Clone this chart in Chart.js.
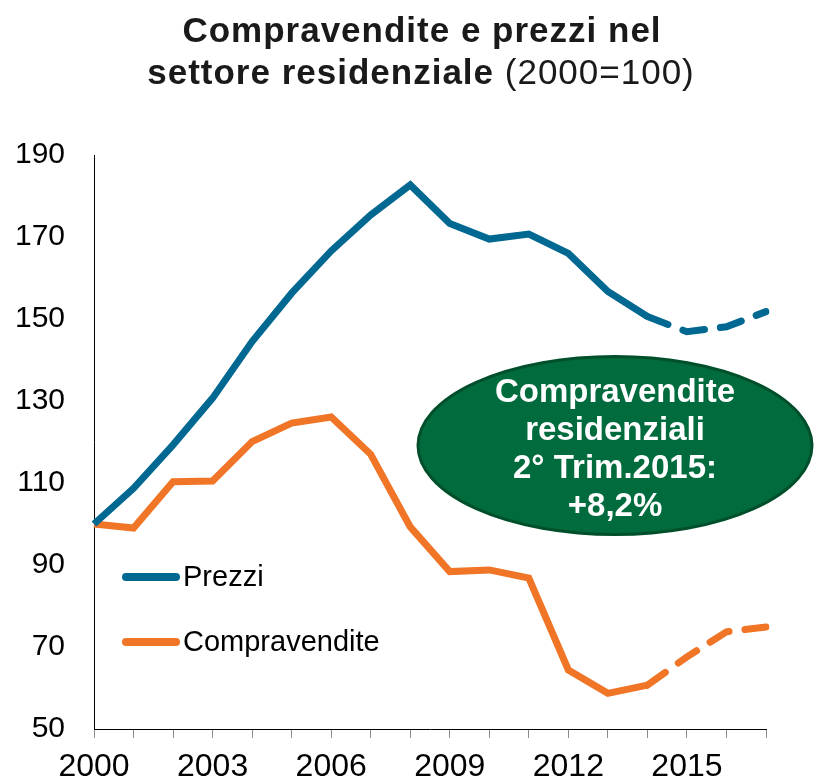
<!DOCTYPE html>
<html>
<head>
<meta charset="utf-8">
<script src="https://cdn.jsdelivr.net/npm/chart.js@4.4.0/dist/chart.umd.min.js"></script>
<style>
html,body{margin:0;padding:0;background:#ffffff;}
canvas{display:block;}
</style>
</head>
<body>
<canvas id="c" width="814" height="781"></canvas>
<script>
// ---- data ----
const years = ['2000','2001','2002','2003','2004','2005','2006','2007','2008','2009','2010','2011','2012','2013','2014','2015','2016','2017'];
const prezzi = [100, 108.7, 119.3, 130.7, 144.5, 156.3, 166.6, 175.4, 182.7, 173.3, 169.5, 170.7, 166.0, 156.7, 150.6, 146.9, 148.1, 151.8];
const compravendite = [100, 99.0, 110.3, 110.5, 120.1, 124.6, 126.1, 117.0, 99.3, 88.4, 88.8, 86.8, 64.4, 58.7, 60.7, 67.6, 73.7, 74.9];
const seriesNames = ['Prezzi', 'Compravendite'];
const forecastFrom = 14; // segments from 2014 onward are dashed
const yMin = 50, yMax = 190, yStep = 20;
const titleLine1 = 'Compravendite e prezzi nel';
const titleLine2Bold = 'settore residenziale';
const titleLine2Normal = ' (2000=100)';
const noteLines = ['Compravendite', 'residenziali', '2° Trim.2015:', '+8,2%'];

const BLUE = '#006891';
const ORANGE = '#F07526';
const FONT = '"Liberation Sans", Arial, Helvetica, sans-serif';

const dashed = (ctx, val) => ctx.p0DataIndex >= forecastFrom ? val : undefined;

const titlePlugin = {
  id: 'titlePlugin',
  afterDraw(chart) {
    const ctx = chart.ctx;
    ctx.save();
    ctx.fillStyle = '#1a1a1a';
    ctx.textBaseline = 'alphabetic';
    ctx.textAlign = 'left';
    const hasLS = ('letterSpacing' in ctx);
    if (hasLS) ctx.letterSpacing = '1px';
    const fs = 35;
    ctx.font = 'bold ' + fs + 'px ' + FONT;
    const w1 = ctx.measureText(titleLine1).width;
    ctx.fillText(titleLine1, 422 - w1 / 2, 42);
    const wb = ctx.measureText(titleLine2Bold).width;
    ctx.font = fs + 'px ' + FONT;
    const wn = ctx.measureText(titleLine2Normal).width;
    const x0 = 421 - (wb + wn) / 2;
    ctx.font = 'bold ' + fs + 'px ' + FONT;
    ctx.fillText(titleLine2Bold, x0, 84);
    ctx.font = fs + 'px ' + FONT;
    ctx.fillText(titleLine2Normal, x0 + wb, 84);
    if (hasLS) ctx.letterSpacing = '0px';
    ctx.restore();
  }
};

const legendPlugin = {
  id: 'legendPlugin',
  afterDraw(chart) {
    const ctx = chart.ctx;
    const items = [[seriesNames[0], BLUE, 577], [seriesNames[1], ORANGE, 642]];
    ctx.save();
    items.forEach(([name, col, y]) => {
      ctx.strokeStyle = col;
      ctx.lineWidth = 8;
      ctx.lineCap = 'round';
      ctx.beginPath();
      ctx.moveTo(126, y);
      ctx.lineTo(176, y);
      ctx.stroke();
      ctx.fillStyle = '#000';
      ctx.font = '29px ' + FONT;
      ctx.textBaseline = 'middle';
      ctx.textAlign = 'left';
      ctx.fillText(name, 183, y + 1);
    });
    ctx.restore();
  }
};

const notePlugin = {
  id: 'notePlugin',
  afterDatasetsDraw(chart) {
    const ctx = chart.ctx;
    ctx.save();
    ctx.beginPath();
    ctx.ellipse(615, 445.5, 197, 89, 0, 0, Math.PI * 2);
    ctx.fillStyle = '#006B3D';
    ctx.fill();
    ctx.lineWidth = 3;
    ctx.strokeStyle = '#004F2B';
    ctx.stroke();
    ctx.fillStyle = '#ffffff';
    ctx.font = 'bold 33px ' + FONT;
    ctx.textAlign = 'center';
    ctx.textBaseline = 'middle';
    noteLines.forEach((t, i) => ctx.fillText(t, 615, 393 + i * 38));
    ctx.restore();
  }
};

new Chart(document.getElementById('c'), {
  type: 'line',
  data: {
    labels: years,
    datasets: [
      {
        label: seriesNames[0],
        data: prezzi,
        borderColor: BLUE,
        borderWidth: 7,
        pointRadius: 0,
        tension: 0,
        fill: false,
        borderCapStyle: 'butt',
        borderJoinStyle: 'miter',
        segment: {
          borderDash: ctx => dashed(ctx, [22, 16]),
          borderCapStyle: ctx => dashed(ctx, 'round')
        }
      },
      {
        label: seriesNames[1],
        data: compravendite,
        borderColor: ORANGE,
        borderWidth: 7,
        pointRadius: 0,
        tension: 0,
        fill: false,
        borderCapStyle: 'butt',
        borderJoinStyle: 'miter',
        segment: {
          borderDash: ctx => dashed(ctx, [22, 16]),
          borderCapStyle: ctx => dashed(ctx, 'round')
        }
      }
    ]
  },
  options: {
    responsive: false,
    animation: false,
    layout: { padding: { top: 155, right: 48, left: 0, bottom: 0 } },
    plugins: { legend: { display: false }, tooltip: { enabled: false }, title: { display: false } },
    scales: {
      x: {
        type: 'category',
        offset: false,
        grid: { display: true, drawOnChartArea: false, drawTicks: true, tickLength: 9, color: '#8a8a8a', lineWidth: 1 },
        border: { display: true, color: '#000000', width: 1 },
        ticks: {
          autoSkip: false,
          maxRotation: 0,
          padding: 10,
          color: '#000000',
          font: { family: FONT, size: 32 },
          callback: function(v, i) { return i % 3 === 0 ? years[i] : ''; }
        },
        afterFit: s => { s.height = 52; }
      },
      y: {
        min: yMin,
        max: yMax,
        grid: { display: true, drawOnChartArea: false, drawTicks: false },
        border: { display: true, color: '#000000', width: 1 },
        ticks: {
          stepSize: yStep,
          padding: 29,
          color: '#000000',
          font: { family: FONT, size: 30 }
        },
        afterFit: s => { s.width = 94; }
      }
    }
  },
  plugins: [notePlugin, legendPlugin, titlePlugin]
});
</script>
</body>
</html>
